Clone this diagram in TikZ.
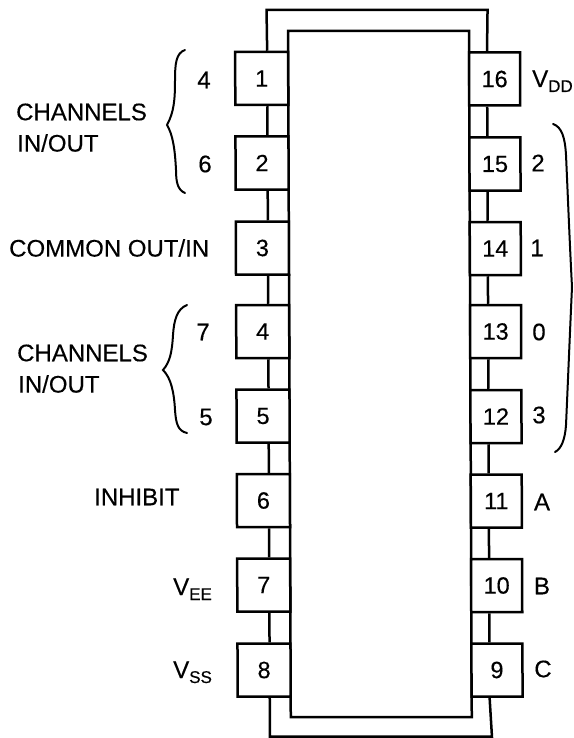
\documentclass[tikz,border=0pt]{standalone}
\usepackage{fontspec}
\usetikzlibrary{calc}
\setmainfont[FakeBold=0.3]{Liberation Sans}
\newcommand{\lowsub}[1]{\raisebox{-5pt}{\fontsize{17}{20}\selectfont #1}}
\tikzset{
  lbl/.style={inner sep=0pt,font=\fontsize{24}{28}\selectfont},
  pinbox/.style={draw=black,line width=2.5pt,fill=white,inner sep=0pt,minimum height=53pt,font=\fontsize{23.5}{28}\selectfont,transform shape},
  lpin/.style={pinbox,minimum width=53pt},
  rpin/.style={pinbox,minimum width=51pt},
  wire/.style={draw=black,line width=2.5pt,line join=miter},
  brace/.style={draw=black,line width=2pt,line cap=round}
}
\begin{document}
\begin{tikzpicture}[x=1pt,y=-1pt]
\useasboundingbox (0,0) rectangle (573,738);
\fill[white] (0,0) rectangle (573,738);
\begin{scope}[xslant=-0.004]
\node[draw=black,line width=2.5pt,fill=white,minimum width=181pt,minimum height=686pt,inner sep=0pt,transform shape] (body) at (378.4,374) {};
\foreach \n/\y in {1/78.5,2/163,3/248,4/331.5,5/416,6/500.5,7/585,8/670}
  \node[lpin] (p\n) at (261.4,\y) {\n};
\foreach \n/\y in {16/79,15/164,14/248.5,13/331.5,12/416.5,11/501,10/585.5,9/670}
  \node[rpin] (p\n) at (494.3,\y) {\n};
% connectors between pin boxes
\foreach \a/\b in {1/2,2/3,3/4,4/5,5/6,6/7,7/8}
  \draw[wire] ($(p\a.south west)!0.6!(p\a.south east)$) -- ($(p\b.north west)!0.6!(p\b.north east)$);
\foreach \a/\b in {16/15,15/14,14/13,13/12,12/11,11/10,10/9}
  \draw[wire] ($(p\a.south west)!0.36!(p\a.south east)$) -- ($(p\b.north west)!0.36!(p\b.north east)$);
% outer wire
\coordinate (tl) at ($(p1.north west)!0.6!(p1.north east)$);
\coordinate (tr) at ($(p16.north west)!0.36!(p16.north east)$);
\coordinate (bl) at ($(p8.south west)!0.6!(p8.south east)$);
\coordinate (br) at ($(p9.south west)!0.36!(p9.south east)$);
\coordinate (tlc) at (266.5,10);
\coordinate (trc) at (487.5,10);
\coordinate (blc) at (267,736.5);
\coordinate (brc) at (489,736.5);
\draw[wire] (tl) -- (tlc) -- (trc) -- (tr);
\draw[wire] (bl) -- (blc) -- (brc) -- (br);
\end{scope}
% left labels
\node[lbl] (c4) at (204,80) {4};
\node[lbl] (c6) at (205,164) {6};
\node[lbl,anchor=west] (ch1a) at (16,112) {CHANNELS};
\node[lbl,anchor=west] (ch1b) at (17,143) {IN/OUT};
\node[lbl,anchor=west] (com) at (9,248) {COMMON OUT/IN};
\node[lbl] (c7) at (203,332) {7};
\node[lbl] (c5) at (206,417) {5};
\node[lbl,anchor=west] (ch2a) at (17,353) {CHANNELS};
\node[lbl,anchor=west] (ch2b) at (18,384) {IN/OUT};
\node[lbl,anchor=west] (inh) at (94,497) {INHIBIT};
\node[lbl,anchor=base west] (vee) at (173,595) {V\lowsub{EE}};
\node[lbl,anchor=base west] (vss) at (173,678) {V\lowsub{SS}};
% right labels
\node[lbl,anchor=base west] (vdd) at (532,87) {V\lowsub{DD}};
\node[lbl] (r2) at (538,163) {2};
\node[lbl] (r1) at (537,248) {1};
\node[lbl] (r0) at (539,332) {0};
\node[lbl] (r3) at (539,415) {3};
\node[lbl] (ra) at (542,502) {A};
\node[lbl] (rb) at (542,586) {B};
\node[lbl] (rc) at (543,669) {C};
% braces
\draw[brace] (185,50) .. controls (176,53) and (175,64) .. (175,80) .. controls (175,100) and (174,112) .. (167,125) .. controls (173,135) and (175,150) .. (176,170) .. controls (176,183) and (178,190) .. (185,193);
\draw[brace] (187,305) .. controls (177,309) and (174,320) .. (173,335) .. controls (172,352) and (170,362) .. (163,370) .. controls (171,378) and (174,392) .. (175,410) .. controls (176,424) and (178,431) .. (187,433);
\draw[brace] (553,124) .. controls (562,127) and (565,138) .. (566,155) .. controls (568,200) and (570,250) .. (572,287) .. controls (570,330) and (568,380) .. (566,425) .. controls (565,440) and (561,449) .. (555,452);
\end{tikzpicture}
\end{document}
